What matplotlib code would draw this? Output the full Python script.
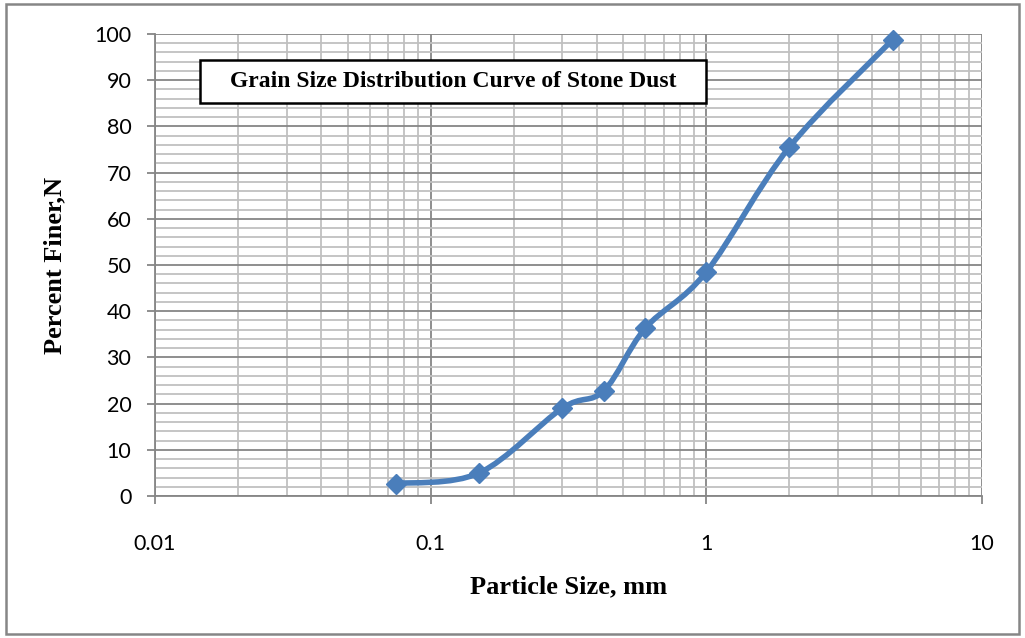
import matplotlib.pyplot as plt
from matplotlib.path import Path
from matplotlib.patches import PathPatch, Rectangle
from matplotlib.ticker import LogLocator, MultipleLocator, FixedLocator, FixedFormatter
import numpy as np

# sieve data
particle_size = [0.075, 0.15, 0.3, 0.425, 0.6, 1.0, 2.0, 4.75]
percent_finer = [2.7, 5.0, 19.0, 22.8, 36.3, 48.5, 75.5, 98.8]
x_ticks = [0.01, 0.1, 1, 10]
x_tick_labels = ['0.01', '0.1', '1', '10']
line_color = '#4A7EBB'

fig = plt.figure(figsize=(10.25, 6.38), dpi=100)
ax = fig.add_axes([155 / 1025, 142 / 638, 827 / 1025, 462 / 638])

# smoothed line like excel (bezier in log-x space)
lx = np.log10(particle_size)
py = np.array(percent_finer)
n = len(lx)
verts = [(lx[0], py[0])]
codes = [Path.MOVETO]
for i in range(n - 1):
    p0 = np.array([lx[max(i - 1, 0)], py[max(i - 1, 0)]])
    p1 = np.array([lx[i], py[i]])
    p2 = np.array([lx[i + 1], py[i + 1]])
    p3 = np.array([lx[min(i + 2, n - 1)], py[min(i + 2, n - 1)]])
    c1 = p1 + (p2 - p0) / 6
    c2 = p2 - (p3 - p1) / 6
    verts += [tuple(c1), tuple(c2), tuple(p2)]
    codes += [Path.CURVE4] * 3
verts = [(10 ** vx, vy) for vx, vy in verts]
ax.add_patch(PathPatch(Path(verts, codes), fill=False, edgecolor=line_color,
                       lw=4, capstyle='round', joinstyle='round', zorder=3))
ax.plot(particle_size, percent_finer, linestyle='none', marker='D', markersize=10,
        color=line_color, zorder=4, clip_on=False)

ax.set_xscale('log')
ax.set_xlim(0.01, 10)
ax.set_ylim(0, 100)

ax.xaxis.set_major_locator(FixedLocator(x_ticks))
ax.xaxis.set_major_formatter(FixedFormatter(x_tick_labels))
ax.xaxis.set_minor_locator(LogLocator(base=10, subs=np.arange(2, 10)))
ax.xaxis.set_minor_formatter(FixedFormatter([]))
ax.yaxis.set_major_locator(MultipleLocator(10))
ax.yaxis.set_minor_locator(MultipleLocator(2))

ax.grid(which='major', color='#868686', lw=1.3)
ax.grid(which='minor', color='#C0C0C0', lw=1.3)
ax.set_axisbelow(True)

for s in ['top', 'right']:
    ax.spines[s].set_visible(False)
for s in ['left', 'bottom']:
    ax.spines[s].set_color('#868686')
    ax.spines[s].set_linewidth(1.3)

tick_font = 'Lato'
ax.tick_params(axis='both', which='major', length=6, width=1.3, color='#868686',
               labelsize=15.5)
ax.tick_params(axis='x', which='major', pad=21)
ax.tick_params(axis='y', which='major', pad=11)
ax.tick_params(which='minor', length=0)
for lab in ax.get_xticklabels() + ax.get_yticklabels():
    lab.set_fontfamily(tick_font)

ax.set_xlabel('Particle Size, mm', fontsize=19, fontweight='bold',
              family='Liberation Serif', labelpad=16)
ax.set_ylabel('Percent Finer,N', fontsize=19, fontweight='bold',
              family='Liberation Serif', labelpad=20)

# title box inside plot
ax.add_patch(Rectangle((0.054, 0.851), 0.612, 0.093, transform=ax.transAxes,
                       facecolor='white', edgecolor='black', lw=1.8, zorder=5))
ax.text(0.3604, 0.897, 'Grain Size Distribution Curve of Stone Dust',
        transform=ax.transAxes, ha='center', va='center', fontsize=17,
        fontweight='bold', family='Liberation Serif', zorder=6)

# outer chart border
fig.patches.append(Rectangle((6 / 1025, 4 / 638), 1013 / 1025, 630 / 638,
                             transform=fig.transFigure, fill=False,
                             edgecolor='#868686', lw=1.8))

fig.savefig('out.png', dpi=100)
